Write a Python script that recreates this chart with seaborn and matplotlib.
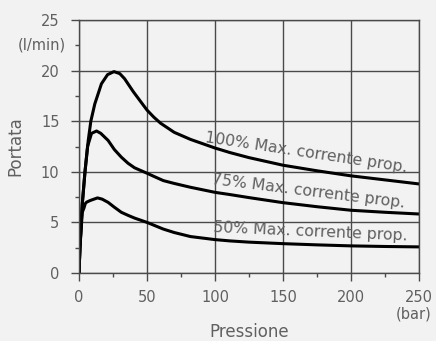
import matplotlib
matplotlib.use("Agg")
import matplotlib.pyplot as plt
import seaborn as sns
import pandas as pd
from matplotlib.ticker import MultipleLocator

# Data
x_100 = [0, 0.7, 2.4, 4.4, 6.8, 8.7, 11.6, 16.5, 21, 25.7, 30, 33.5, 40, 45, 50, 55, 60, 70, 82, 100, 111, 125, 140, 150, 175, 200, 225, 250]
y_100 = [0, 2.5, 6.8, 10.0, 13.1, 15.0, 16.7, 18.7, 19.6, 19.9, 19.7, 19.2, 17.9, 17.0, 16.1, 15.4, 14.8, 13.9, 13.2, 12.35, 11.9, 11.4, 10.95, 10.65, 10.1, 9.6, 9.2, 8.8]
x_75 = [0, 0.7, 2.4, 4.4, 6.3, 9.2, 12.9, 16, 21.4, 26, 31.1, 36, 40.8, 45, 50, 55, 62, 70, 82, 100, 111, 125, 140, 150, 175, 200, 225, 250]
y_75 = [0, 2.5, 6.8, 10.0, 12.5, 13.8, 14.03, 13.8, 13.1, 12.2, 11.45, 10.85, 10.4, 10.15, 9.86, 9.55, 9.13, 8.85, 8.47, 7.97, 7.75, 7.45, 7.15, 6.95, 6.55, 6.2, 6.0, 5.83]
x_50 = [0, 0.7, 2.4, 3.6, 4.6, 5.6, 8, 10, 13.6, 17, 21.4, 26, 31.1, 36, 40.8, 50, 62, 70, 82, 100, 111, 125, 140, 150, 175, 200, 225, 250]
y_50 = [0, 2.5, 6.0, 6.4, 6.85, 7.0, 7.15, 7.25, 7.42, 7.3, 6.98, 6.5, 6.0, 5.7, 5.43, 5.0, 4.34, 4.0, 3.6, 3.3, 3.17, 3.05, 2.96, 2.9, 2.78, 2.68, 2.62, 2.58]

series_labels = ["100% Max. corrente prop.", "75% Max. corrente prop.", "50% Max. corrente prop."]
x_ticks = [0, 50, 100, 150, 200, 250]
y_ticks = [0, 5, 10, 15, 20, 25]
x_label = "Pressione"
y_label = "Portata"
x_unit = "(bar)"
y_unit = "(l/min)"

frames = []
for lab, xs, ys in zip(series_labels, [x_100, x_75, x_50], [y_100, y_75, y_50]):
    frames.append(pd.DataFrame({"x": xs, "y": ys, "s": lab}))
df = pd.concat(frames, ignore_index=True)

sns.set_theme(style="white")
plt.rcParams['font.family'] = ['DejaVu Sans']
bg = "#f2f2f2"
txt = "#606060"
gridc = "#4a4a4a"

fig = plt.figure(figsize=(4.36, 3.41), dpi=100, facecolor=bg)
ax = fig.add_axes([79/436, 1-273/341, (419-79)/436, (273-20)/341])
ax.set_facecolor(bg)

sns.lineplot(data=df, x="x", y="y", units="s", estimator=None, sort=False,
             color="black", linewidth=2.2, ax=ax, legend=False)

ax.set_xlim(0, 250)
ax.set_ylim(0, 25)
ax.set_xticks(x_ticks)
ax.set_yticks(y_ticks)
ax.xaxis.set_minor_locator(MultipleLocator(25))
ax.yaxis.set_minor_locator(MultipleLocator(2.5))
ax.tick_params(axis="both", which="major", direction="out", length=6, width=1,
               color=gridc, labelcolor=txt, labelsize=10.5)
ax.tick_params(axis="both", which="minor", direction="out", length=3, width=1, color=gridc)
ax.tick_params(axis="y", which="both", left=True, pad=8)
ax.tick_params(axis="x", which="both", bottom=True, pad=6)
ax.grid(True, which="major", color=gridc, linewidth=1)
for sp in ax.spines.values():
    sp.set_color(gridc)
    sp.set_linewidth(1)

ax.set_xlabel(x_label, color=txt, fontsize=12, va="center")
ax.set_ylabel(y_label, color=txt, fontsize=12, va="center")
ax.xaxis.set_label_coords(0.5, -59/253)
ax.yaxis.set_label_coords(-64/340, 0.5)
ax.text(246, -4.1, x_unit, ha="center", va="center",
        color=txt, fontsize=10.5, clip_on=False)
ax.text(-13/340, 22.5, y_unit, transform=ax.get_yaxis_transform(), ha="right", va="center",
        color=txt, fontsize=10.5, clip_on=False)

ax.text(167.4, 11.85, series_labels[0], rotation=-8.5, ha="center", va="center",
        color=txt, fontsize=11.3, rotation_mode="anchor")
ax.text(168.6, 8.05, series_labels[1], rotation=-7, ha="center", va="center",
        color=txt, fontsize=11.3, rotation_mode="anchor")
ax.text(169.9, 4.09, series_labels[2], rotation=-2.5, ha="center", va="center",
        color=txt, fontsize=11.3, rotation_mode="anchor")

fig.savefig("out.png", dpi=100, facecolor=bg)
